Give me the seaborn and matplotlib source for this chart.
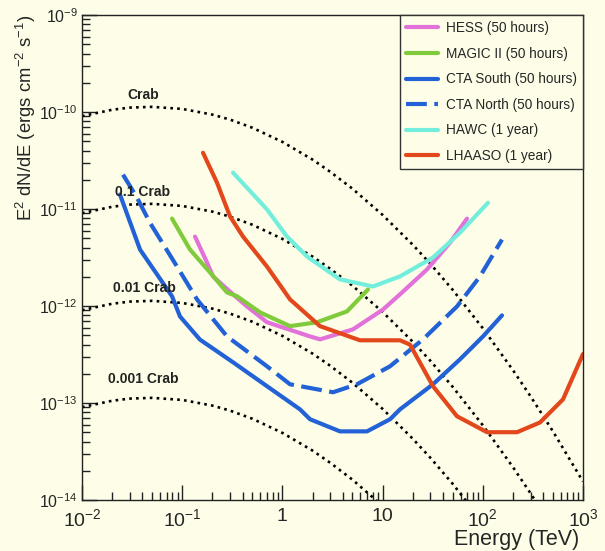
import numpy as np
import pandas as pd
import matplotlib
matplotlib.use("Agg")
import matplotlib.pyplot as plt
from matplotlib.lines import Line2D
from matplotlib.ticker import FixedLocator, LogLocator, NullFormatter, FixedFormatter
import seaborn as sns

# ---------------- data ----------------
crab_energy = [0.01, 0.02, 0.03, 0.05, 0.1, 0.2, 0.3, 0.5, 1, 2, 3, 5, 10, 20, 30, 50,
               100, 200, 300, 500, 1000]
crab_flux = [9.06e-11, 1.055e-10, 1.11e-10, 1.13e-10, 1.076e-10, 9.4e-11, 8.35e-11, 6.89e-11,
             4.92e-11, 3.23e-11, 2.42e-11, 1.62e-11, 8.69e-12, 4.28e-12, 2.72e-12, 1.47e-12,
             5.9e-13, 2.18e-13, 1.17e-13, 5.12e-14, 1.55e-14]
crab_fractions = [1.0, 0.1, 0.01, 0.001]
crab_labels = ["Crab", "0.1 Crab", "0.01 Crab", "0.001 Crab"]
crab_label_x = [0.0406, 0.0406, 0.042, 0.0406]
crab_label_y = [1.5e-10, 1.51e-11, 1.55e-12, 1.76e-13]

hess_e = [0.1342, 0.1768, 0.203, 0.3214, 0.4435, 0.7019, 1.886, 2.373, 5.066, 10.09, 14.92,
          27.74, 31.84, 47.07, 69.56]
hess_f = [5.2e-12, 2.81e-12, 2.02e-12, 1.32e-12, 9.9e-13, 6.8e-13, 4.86e-13, 4.53e-13,
          5.74e-13, 9.2e-13, 1.32e-12, 2.38e-12, 2.81e-12, 4.5e-12, 7.96e-12]

magic_e = [0.07913, 0.1196, 0.1894, 0.28, 0.3524, 0.5976, 1.191, 2.215, 4.413, 7.152]
magic_f = [7.96e-12, 3.82e-12, 2.22e-12, 1.38e-12, 1.26e-12, 8.6e-13, 6.2e-13, 6.8e-13,
           8.8e-13, 1.48e-12]

cta_s_e = [0.02394, 0.03792, 0.07913, 0.09507, 0.1505, 0.3214, 0.7019, 1.498, 1.886, 3.757,
           6.989, 11.86, 14.92, 31.84, 59.22, 100.5, 155.4]
cta_s_f = [1.41e-11, 3.82e-12, 1.26e-12, 7.8e-13, 4.5e-13, 2.63e-13, 1.49e-13, 8.6e-14,
           6.8e-14, 5.1e-14, 5.1e-14, 6.8e-14, 8.6e-14, 1.56e-13, 2.82e-13, 4.86e-13, 8.0e-13]

cta_n_e = [0.02566, 0.03539, 0.04771, 0.08874, 0.1405, 0.28, 0.7019, 1.191, 3.199, 5.554,
           11.86, 25.3, 55.27, 93.79, 155.4]
cta_n_f = [2.26e-11, 1.31e-11, 7.2e-12, 2.55e-12, 1.17e-12, 4.86e-13, 2.39e-13, 1.56e-13,
           1.29e-13, 1.56e-13, 2.39e-13, 4.53e-13, 9.9e-13, 2.02e-12, 4.84e-12]

hawc_e = [0.3214, 0.7019, 1.111, 1.76, 3.757, 8.023, 14.92, 31.84, 59.22, 112.7]
hawc_f = [2.37e-11, 9.9e-12, 5.2e-12, 3.24e-12, 1.88e-12, 1.59e-12, 2.02e-12, 3.16e-12,
          5.7e-12, 1.16e-11]

lhaaso_e = [0.1613, 0.2225, 0.2999, 0.4045, 0.7019, 1.191, 2.373, 5.951, 14.92, 18.77,
            31.84, 55.27, 110.1, 219.5, 372.3, 631.6, 1000]
lhaaso_f = [3.8e-11, 1.87e-11, 8.4e-12, 5.2e-12, 2.55e-12, 1.17e-12, 6.2e-13, 4.43e-13,
            4.43e-13, 4.0e-13, 1.49e-13, 7.3e-14, 5.0e-14, 5.0e-14, 6.3e-14, 1.09e-13, 3.2e-13]

series_names = ["HESS (50 hours)", "MAGIC II (50 hours)", "CTA South (50 hours)",
                "CTA North (50 hours)", "HAWC (1 year)", "LHAASO (1 year)"]
series_e = [hess_e, magic_e, cta_s_e, cta_n_e, hawc_e, lhaaso_e]
series_f = [hess_f, magic_f, cta_s_f, cta_n_f, hawc_f, lhaaso_f]
series_colors = ["#E271DA", "#80CB3C", "#2262D6", "#2262D6", "#74EEDC", "#E2481C"]
series_styles = ["-", "-", "-", (0, (5, 1.8)), "-", "-"]

x_ticks = [1e-2, 1e-1, 1, 10, 1e2, 1e3]
x_ticklabels = [r"$10^{-2}$", r"$10^{-1}$", "1", "10", r"$10^{2}$", r"$10^{3}$"]
y_ticks = [1e-14, 1e-13, 1e-12, 1e-11, 1e-10, 1e-9]
y_ticklabels = [r"$10^{-14}$", r"$10^{-13}$", r"$10^{-12}$", r"$10^{-11}$",
                r"$10^{-10}$", r"$10^{-9}$"]

# ---------------- style ----------------
bg = "#FEFEE8"
sns.set_theme(style="ticks")
plt.rcParams["font.family"] = ["Liberation Sans", "DejaVu Sans"]
plt.rcParams["mathtext.fontset"] = "custom"
plt.rcParams["mathtext.rm"] = "Liberation Sans"
plt.rcParams["mathtext.it"] = "Liberation Sans:italic"
plt.rcParams["mathtext.bf"] = "Liberation Sans:bold"

fig = plt.figure(figsize=(6.05, 5.51), dpi=100, facecolor=bg)
ax = fig.add_axes([82 / 605, 1 - 500 / 551, (583 - 82) / 605, (500 - 15) / 551])
ax.set_facecolor(bg)

# Crab reference curves
for frac in crab_fractions:
    df = pd.DataFrame({"E": crab_energy, "F": [v * frac for v in crab_flux]})
    sns.lineplot(data=df, x="E", y="F", ax=ax, color="black", lw=1.9,
                 linestyle=(0, (1, 1.6)), sort=False, estimator=None, legend=False)

for lab, lx, ly in zip(crab_labels, crab_label_x, crab_label_y):
    ax.text(lx, ly, lab, ha="center", va="center", fontsize=10, fontweight="bold",
            color="#222222")

# sensitivity curves
handles = []
for name, e, f, c, ls in zip(series_names, series_e, series_f, series_colors, series_styles):
    df = pd.DataFrame({"E": e, "F": f})
    sns.lineplot(data=df, x="E", y="F", ax=ax, color=c, lw=3.0, linestyle=ls,
                 sort=False, estimator=None, legend=False)
    handles.append(Line2D([], [], color=c, lw=3.0, linestyle=ls))

ax.set_xscale("log")
ax.set_yscale("log")
ax.set_xlim(1e-2, 1e3)
ax.set_ylim(1e-14, 1e-9)

ax.xaxis.set_major_locator(FixedLocator(x_ticks))
ax.xaxis.set_major_formatter(FixedFormatter(x_ticklabels))
ax.yaxis.set_major_locator(FixedLocator(y_ticks))
ax.yaxis.set_major_formatter(FixedFormatter(y_ticklabels))
ax.xaxis.set_minor_locator(LogLocator(base=10, subs=np.arange(2, 10), numticks=20))
ax.yaxis.set_minor_locator(LogLocator(base=10, subs=np.arange(2, 10), numticks=20))
ax.xaxis.set_minor_formatter(NullFormatter())
ax.yaxis.set_minor_formatter(NullFormatter())

ax.tick_params(axis="both", which="both", direction="in", top=False, right=False,
               color="#222222")
ax.tick_params(axis="both", which="major", length=11, width=1.0)
ax.tick_params(axis="both", which="minor", length=6, width=1.0)
ax.tick_params(axis="x", which="major", labelsize=14, pad=6)
ax.tick_params(axis="y", which="major", labelsize=11.5, pad=3)

for sp in ax.spines.values():
    sp.set_visible(True)
    sp.set_color("#222222")
    sp.set_linewidth(1.0)

ax.set_xlabel("Energy (TeV)", fontsize=15.5, ha="right", x=0.992, labelpad=-1)
ax.set_ylabel(r"E$^{2}$ dN/dE (ergs cm$^{-2}$ s$^{-1}$)", fontsize=13.3, ha="right")
ax.yaxis.set_label_coords(-0.088, 1.0)

leg = ax.legend(handles, series_names, loc="upper right", bbox_to_anchor=(1.0, 1.0),
                borderaxespad=0, fontsize=9.8, frameon=True, fancybox=False,
                facecolor=bg, edgecolor="#333333", framealpha=1.0,
                handlelength=2.35, handletextpad=0.6, labelspacing=0.85,
                borderpad=0.45)
leg.get_frame().set_linewidth(1.0)

fig.savefig("out.png", dpi=100, facecolor=bg)
